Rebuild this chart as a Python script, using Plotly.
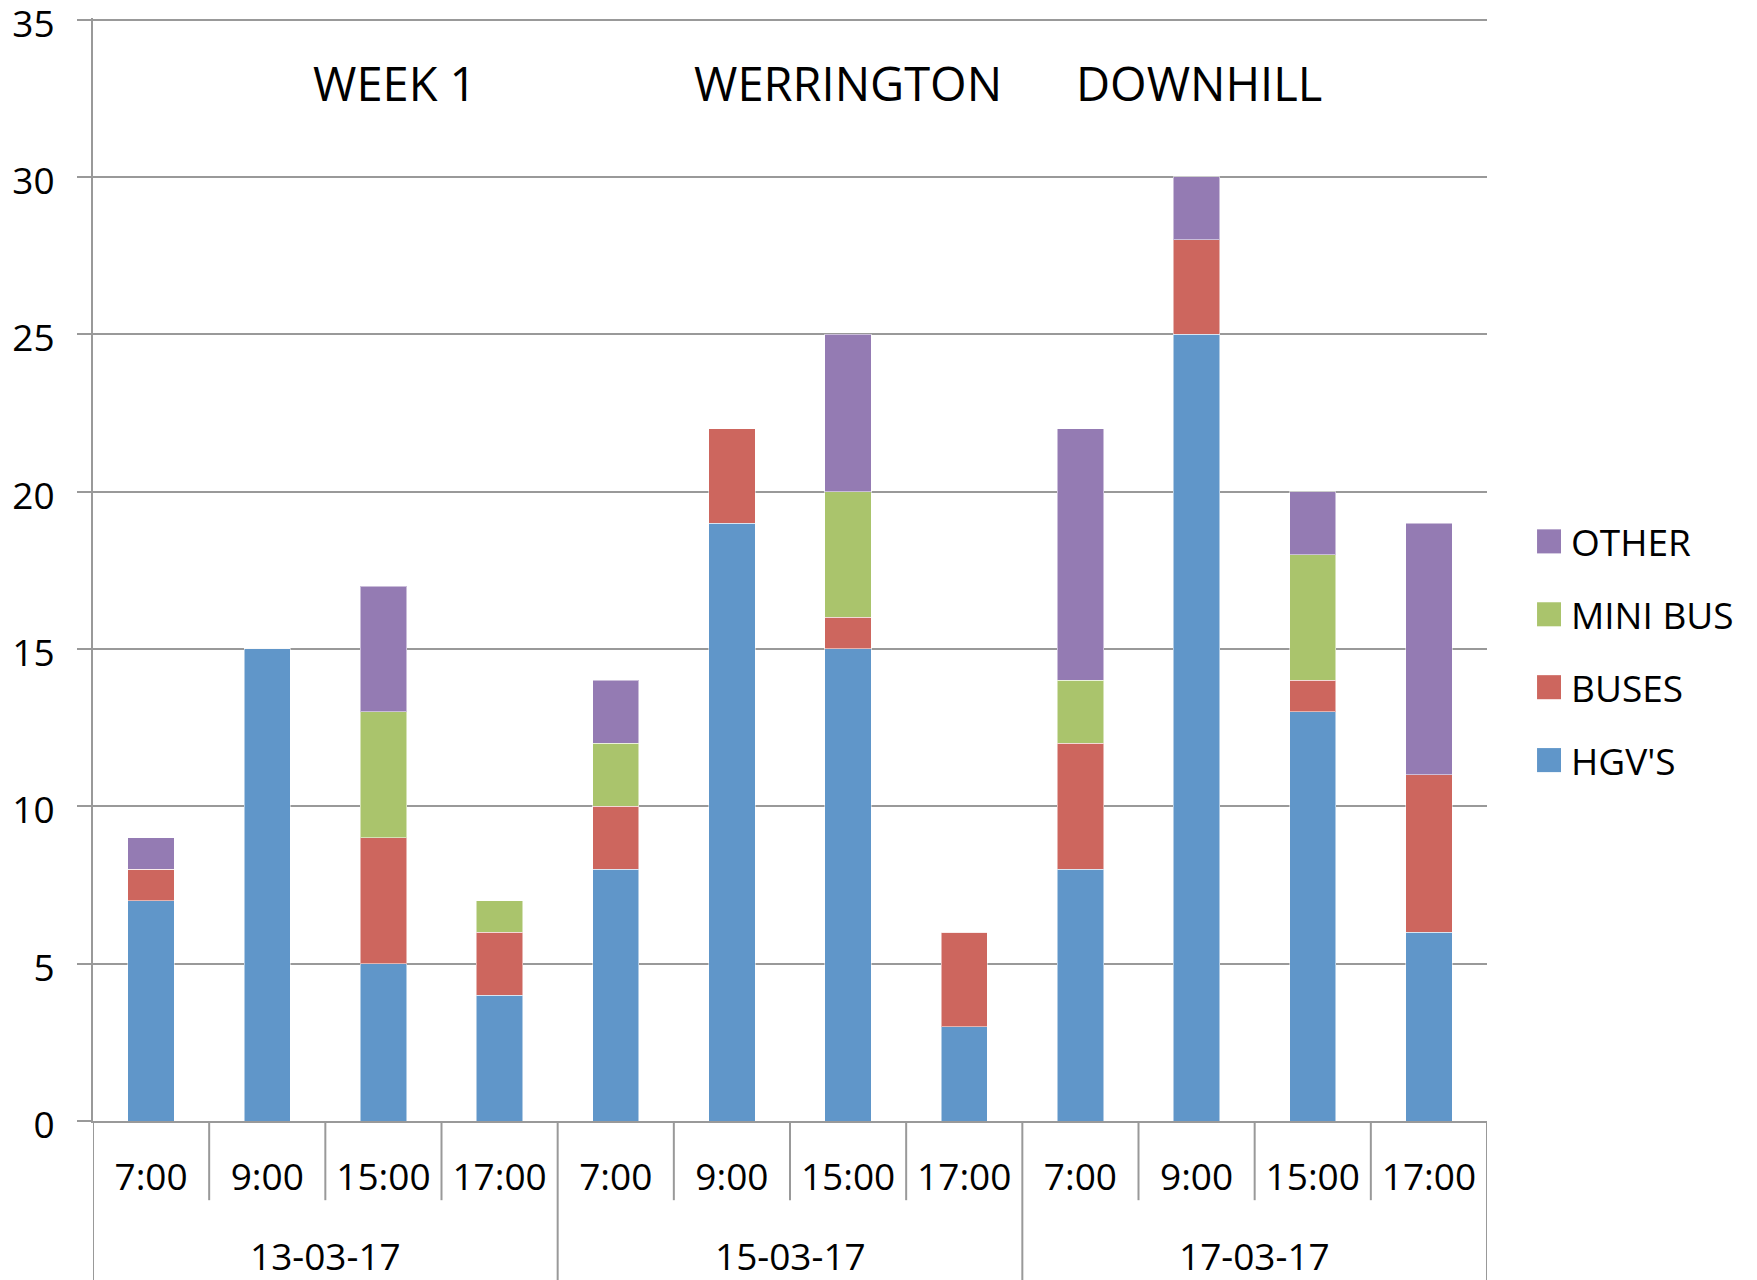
import plotly.graph_objects as go

group_dates = ["13-03-17", "15-03-17", "17-03-17"]
time_labels = ["7:00", "9:00", "15:00", "17:00"]
dates = [d for d in group_dates for _ in time_labels]
times = time_labels * len(group_dates)

hgv = [7, 15, 5, 4, 8, 19, 15, 3, 8, 25, 13, 6]
buses = [1, 0, 4, 2, 2, 3, 1, 3, 4, 3, 1, 5]
minibus = [0, 0, 4, 1, 2, 0, 4, 0, 2, 0, 4, 0]
other = [1, 0, 4, 0, 2, 0, 5, 0, 8, 2, 2, 8]

series_names = ["HGV'S", "BUSES", "MINI BUS", "OTHER"]
series_values = [hgv, buses, minibus, other]
series_colors = ["#6096C9", "#CD665E", "#AAC46C", "#947BB3"]

titles = ["WEEK 1", "WERRINGTON", "DOWNHILL"]
title_x = [0.2163, 0.5416, 0.7934]

FONT = "Open Sans"
GRAY = "#999999"
keys = [f"{d} {t}" for d, t in zip(dates, times)]

fig = go.Figure()
for name, vals, col in zip(series_names, series_values, series_colors):
    fig.add_trace(go.Bar(
        x=keys, y=vals, name=name, showlegend=False,
        marker=dict(color=col, line=dict(color="rgba(255,255,255,0.5)", width=1)),
    ))

# titles
for t, xp in zip(titles, title_x):
    fig.add_annotation(text=t, x=xp, y=0.941, xref="paper", yref="paper",
                       showarrow=False, font=dict(size=47, color="black", family=FONT),
                       xanchor="center", yanchor="middle")

# outer category labels (dates) and separators
n_per = len(time_labels)
for g, d in enumerate(group_dates):
    fig.add_annotation(text=d, x=g * n_per + (n_per - 1) / 2, y=-0.1222,
                       xref="x", yref="paper", showarrow=False,
                       font=dict(size=37, color="black", family=FONT),
                       xanchor="center", yanchor="middle")
n = len(keys)
for b in range(n + 1):
    pos = b - 0.5
    is_group = (b % n_per == 0)
    fig.add_shape(type="line", xref="x", yref="paper", x0=pos, x1=pos,
                  y0=0, y1=-0.16 if is_group else -0.0718,
                  line=dict(color=GRAY, width=2))

# manual legend
leg_top = 0.5255
leg_step = 0.0661
sq = 0.0218
for i, k in enumerate(reversed(range(len(series_names)))):
    yc = leg_top - i * leg_step
    fig.add_shape(type="rect", xref="paper", yref="paper",
                  x0=1.0359, x1=1.0531, y0=yc - sq / 2, y1=yc + sq / 2,
                  fillcolor=series_colors[k], line=dict(width=0))
    fig.add_annotation(text=series_names[k], x=1.0590, y=yc, xref="paper", yref="paper",
                       showarrow=False, xanchor="left", yanchor="middle",
                       font=dict(size=37, color="black", family=FONT))

fig.update_layout(
    width=1757, height=1280,
    barmode="stack", bargap=0.6,
    plot_bgcolor="white", paper_bgcolor="white",
    margin=dict(l=85, r=278, t=10, b=167, autoexpand=False),
    font=dict(family=FONT, size=37, color="black"),
    showlegend=False,
    xaxis=dict(
        type="category", range=[-0.5, n - 0.5], automargin=False,
        tickmode="array", tickvals=keys, ticktext=times,
        showline=True, linecolor=GRAY, linewidth=2,
        ticks="", ticklabelstandoff=23,
        tickfont=dict(size=37, family=FONT, color="black"),
        showgrid=False,
    ),
    yaxis=dict(
        range=[0, 35.05], tickvals=[0, 5, 10, 15, 20, 25, 30, 35], automargin=False,
        showgrid=True, gridcolor=GRAY, gridwidth=2,
        showline=True, linecolor=GRAY, linewidth=2,
        ticks="outside", ticklen=14, tickcolor=GRAY, tickwidth=2,
        ticklabelstandoff=15, ticklabelshift=4, ticklabeloverflow="allow",
        tickfont=dict(size=37, family=FONT, color="black"),
        zeroline=False,
    ),
)

fig.write_html("out.html")
